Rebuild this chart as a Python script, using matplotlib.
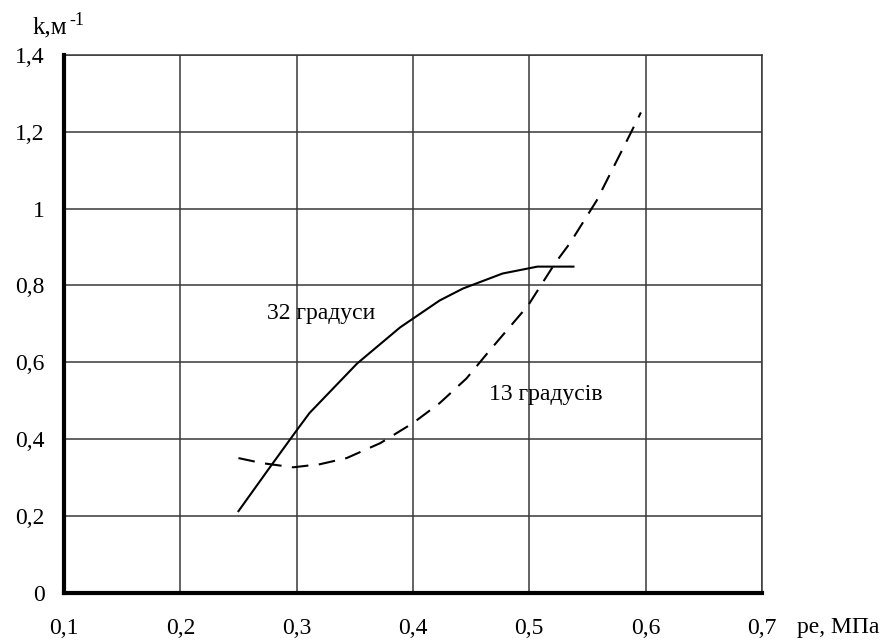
import matplotlib.pyplot as plt

plt.rcParams['font.family'] = ['Liberation Serif', 'DejaVu Serif']

# 32 degrees curve (solid)
p32 = [0.25, 0.277, 0.30, 0.311, 0.352, 0.389, 0.423, 0.443, 0.477, 0.507, 0.538]
k32 = [0.213, 0.327, 0.423, 0.468, 0.597, 0.691, 0.761, 0.792, 0.831, 0.849, 0.849]

# 13 degrees curve (dashed)
p13 = [0.25, 0.27, 0.297, 0.32, 0.343, 0.372, 0.40, 0.423, 0.446, 0.466,
       0.499, 0.522, 0.535, 0.558, 0.587, 0.596]
k13 = [0.351, 0.338, 0.327, 0.335, 0.351, 0.390, 0.442, 0.494, 0.558, 0.631,
       0.748, 0.857, 0.91, 1.021, 1.195, 1.25]

xticks = [0.1, 0.2, 0.3, 0.4, 0.5, 0.6, 0.7]
xlabels = ['0,1', '0,2', '0,3', '0,4', '0,5', '0,6', '0,7']
yticks = [0, 0.2, 0.4, 0.6, 0.8, 1.0, 1.2, 1.4]
ylabels = ['0', '0,2', '0,4', '0,6', '0,8', '1', '1,2', '1,4']

fig = plt.figure(figsize=(8.89, 6.4), dpi=100)
ax = fig.add_axes([0.072, 0.0734, 0.785, 0.841])

ax.plot(p32, k32, color='black', lw=1.5)
ax.plot(p13, k13, color='black', lw=1.5, dashes=(8, 5))

ax.set_xlim(0.1, 0.7)
ax.set_ylim(0, 1.4)
ax.set_xticks(xticks)
ax.set_xticklabels(xlabels)
ax.set_yticks(yticks)
ax.set_yticklabels(ylabels)
ax.tick_params(axis='both', length=0, labelsize=17)
ax.tick_params(axis='x', pad=18)
ax.tick_params(axis='y', pad=14)
ax.grid(True, color='#383838', lw=1.1)
ax.set_axisbelow(True)

for side in ['left', 'bottom']:
    ax.spines[side].set_linewidth(3)
    ax.spines[side].set_color('black')
    ax.spines[side].set_zorder(5)
for side in ['top', 'right']:
    ax.spines[side].set_linewidth(1.1)
    ax.spines[side].set_color('#383838')

ax.text(0.321, 0.727, '32 градуси', fontsize=17, ha='center', va='center')
ax.text(0.514, 0.517, '13 градусів', fontsize=17, ha='center', va='center')

# axis titles
fig.text(33 / 889, 1 - 33 / 640, 'k,м', fontsize=18, ha='left', va='baseline')
fig.text(69 / 889, 1 - 25 / 640, '-1', fontsize=13, ha='left', va='baseline')
fig.text(797 / 889, 1 - 627 / 640, 'pe, МПа', fontsize=17, ha='left', va='center')

fig.savefig('out.png', dpi=100)
